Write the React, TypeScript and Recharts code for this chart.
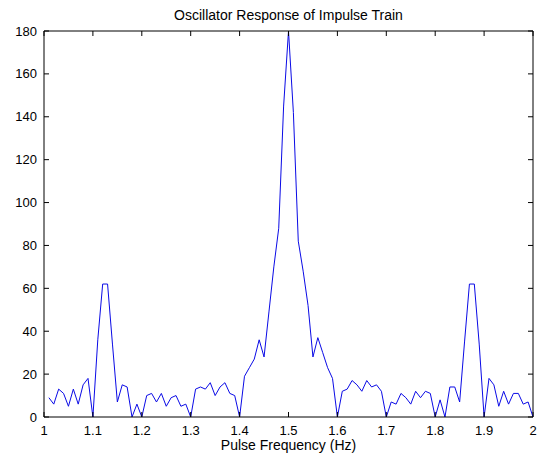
import { LineChart, Line, XAxis, YAxis, ReferenceLine } from 'recharts'

// pulse frequency (Hz)
const freqs = [
  1.01, 1.02, 1.03, 1.04, 1.05, 1.06, 1.07, 1.08, 1.09, 1.1,
  1.11, 1.12, 1.13, 1.14, 1.15, 1.16, 1.17, 1.18, 1.19, 1.2,
  1.21, 1.22, 1.23, 1.24, 1.25, 1.26, 1.27, 1.28, 1.29, 1.3,
  1.31, 1.32, 1.33, 1.34, 1.35, 1.36, 1.37, 1.38, 1.39, 1.4,
  1.41, 1.42, 1.43, 1.44, 1.45, 1.46, 1.47, 1.48, 1.49, 1.5,
  1.51, 1.52, 1.53, 1.54, 1.55, 1.56, 1.57, 1.58, 1.59, 1.6,
  1.61, 1.62, 1.63, 1.64, 1.65, 1.66, 1.67, 1.68, 1.69, 1.7,
  1.71, 1.72, 1.73, 1.74, 1.75, 1.76, 1.77, 1.78, 1.79, 1.8,
  1.81, 1.82, 1.83, 1.84, 1.85, 1.86, 1.87, 1.88, 1.89, 1.9,
  1.91, 1.92, 1.93, 1.94, 1.95, 1.96, 1.97, 1.98, 1.99, 2.0,
]

// oscillator response
const response = [
  9, 6, 13, 11, 5, 13, 6, 15, 18, 0,
  36, 62, 62, 34, 7, 15, 14, 0, 6, 0,
  10, 11, 7, 11, 5, 9, 10, 5, 6, 0,
  13, 14, 13, 16, 10, 14, 16, 11, 10, 0,
  19, 23, 27, 36, 28, 49, 70, 88, 145, 180,
  142, 82, 68, 52, 28, 37, 30, 23, 18, 0,
  12, 13, 17, 15, 12, 17, 14, 15, 12, 0,
  7, 6, 11, 9, 6, 12, 9, 12, 11, 0,
  8, 0, 14, 14, 7, 35, 62, 62, 34, 0,
  18, 15, 5, 12, 6, 11, 11, 6, 7, 0,
]

const xTicks = [1, 1.1, 1.2, 1.3, 1.4, 1.5, 1.6, 1.7, 1.8, 1.9, 2]
const yTicks = [0, 20, 40, 60, 80, 100, 120, 140, 160, 180]

const data = freqs.map((f, i) => ({ f, r: response[i] }))

// plot box (matlab-ish axes with inward ticks on all sides)
const W = 542
const H = 461
const PLOT_TOP = 31
const PLOT_BOTTOM = 417
const PLOT_LEFT = 44
const PLOT_RIGHT = 533
const TICK = 5
const FONT = '"Liberation Sans", Arial, sans-serif'

const XTick = (props: any) => {
  const { x, payload } = props
  return (
    <g>
      <line x1={x} x2={x} y1={PLOT_BOTTOM} y2={PLOT_BOTTOM - TICK} stroke="#000" />
      <line x1={x} x2={x} y1={PLOT_TOP} y2={PLOT_TOP + TICK} stroke="#000" />
      <text x={x} y={PLOT_BOTTOM + 18} textAnchor="middle" fontSize={13} fill="#000" fontFamily={FONT}>
        {String(payload.value)}
      </text>
    </g>
  )
}

const YTick = (props: any) => {
  const { y, payload } = props
  return (
    <g>
      <line x1={PLOT_LEFT} x2={PLOT_LEFT + TICK} y1={y} y2={y} stroke="#000" />
      <line x1={PLOT_RIGHT} x2={PLOT_RIGHT - TICK} y1={y} y2={y} stroke="#000" />
      <text x={PLOT_LEFT - 7} y={y + 4.6} textAnchor="end" fontSize={13} fill="#000" fontFamily={FONT}>
        {String(payload.value)}
      </text>
    </g>
  )
}

const App = () => {
  return (
    <div style={{ position: 'absolute', left: 0, top: 0, width: W, height: H, background: '#fff' }}>
      <LineChart
        width={W}
        height={H}
        data={data}
        margin={{ top: PLOT_TOP, right: W - PLOT_RIGHT, bottom: 0, left: 0 }}
      >
        <XAxis
          dataKey="f"
          type="number"
          domain={[1, 2]}
          ticks={xTicks}
          interval={0}
          allowDataOverflow
          height={H - PLOT_BOTTOM}
          tickSize={0}
          tickMargin={0}
          tickLine={false}
          tick={<XTick />}
          axisLine={{ stroke: '#000' }}
          label={{
            value: 'Pulse Frequency (Hz)',
            position: 'insideBottom',
            offset: 11,
            fontSize: 14,
            fill: '#000',
            fontFamily: FONT,
          }}
        />
        <YAxis
          type="number"
          domain={[0, 180]}
          ticks={yTicks}
          interval={0}
          allowDataOverflow
          width={PLOT_LEFT}
          tickSize={0}
          tickMargin={0}
          tickLine={false}
          tick={<YTick />}
          axisLine={{ stroke: '#000' }}
        />
        <ReferenceLine y={180} stroke="#000" />
        <ReferenceLine x={2} stroke="#000" />
        <Line
          type="linear"
          dataKey="r"
          stroke="#0a0ae6"
          strokeWidth={1}
          dot={false}
          isAnimationActive={false}
        />
      </LineChart>
      <svg
        width={W}
        height={30}
        style={{ position: 'absolute', left: 0, top: 0, pointerEvents: 'none' }}
      >
        <text
          x={(PLOT_LEFT + PLOT_RIGHT) / 2}
          y={20}
          textAnchor="middle"
          fontSize={14}
          fill="#000"
          fontFamily={FONT}
        >
          Oscillator Response of Impulse Train
        </text>
      </svg>
    </div>
  )
}

export default App
